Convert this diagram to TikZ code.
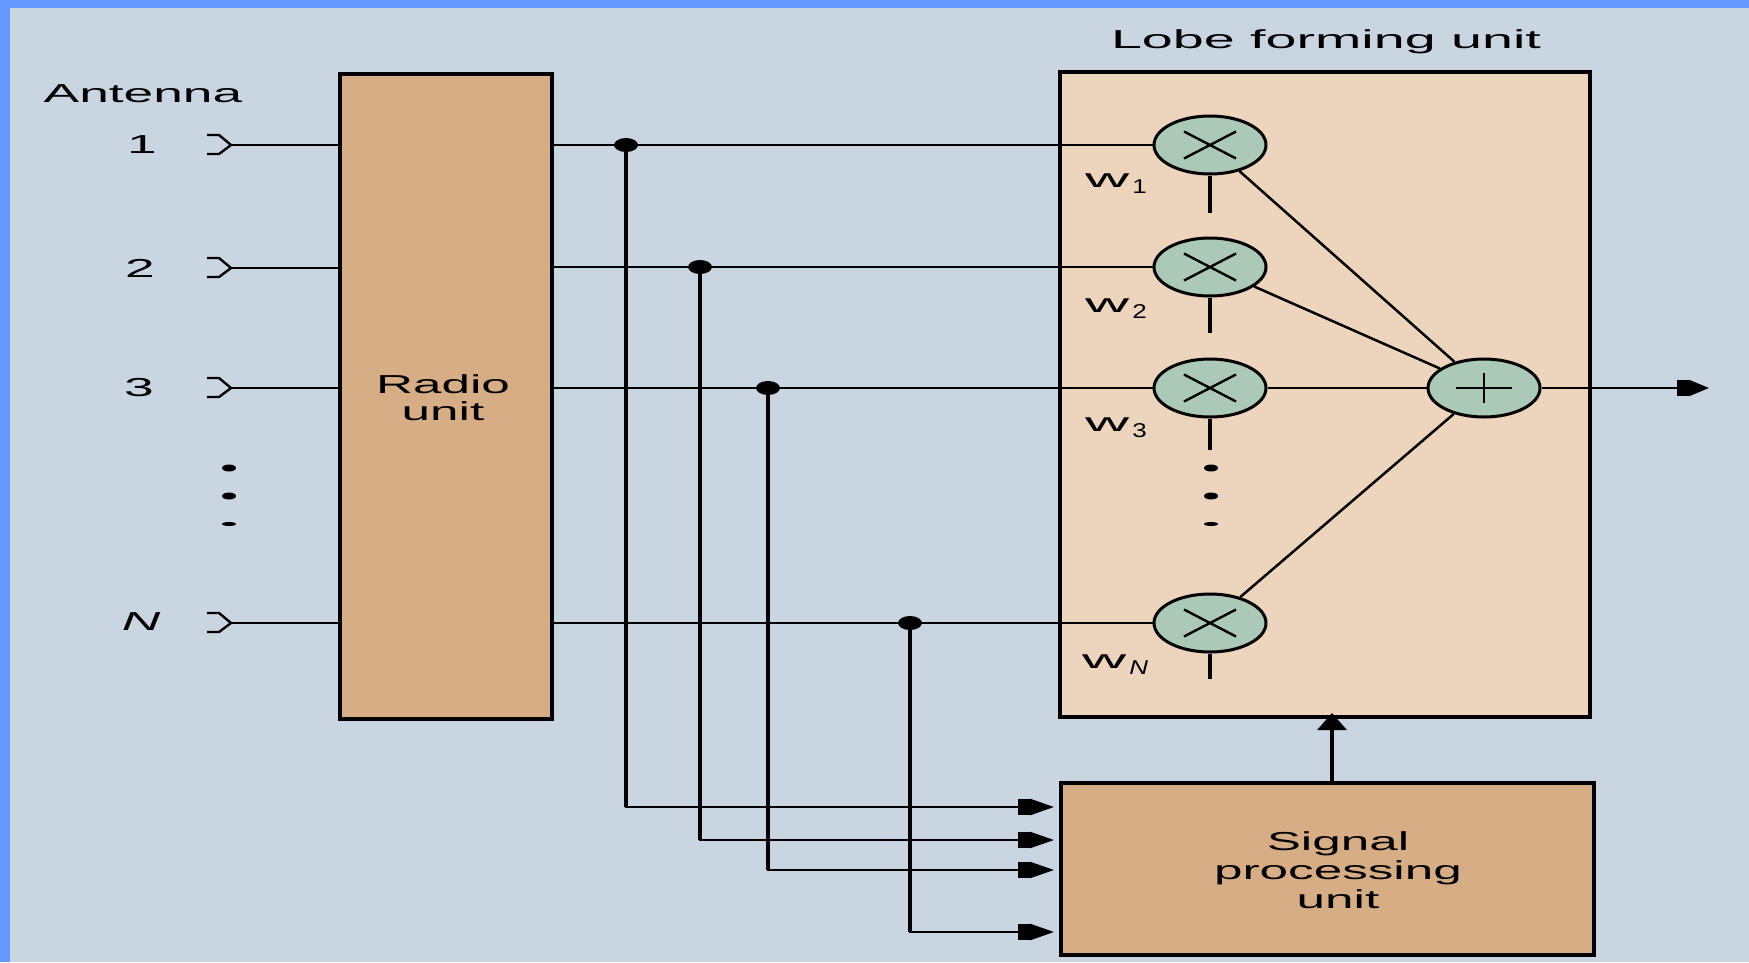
\documentclass[tikz,border=0pt]{standalone}
\usepackage{fontspec}
\usetikzlibrary{shapes.geometric,arrows.meta}
\setmainfont{Liberation Sans}
\newfontfamily\wide[FakeStretch=2.05]{Liberation Sans}
\newfontfamily\widemid[FakeStretch=1.97]{Liberation Sans}
\newfontfamily\widetop[FakeStretch=2.14]{Liberation Sans}
\newfontfamily\widei[FakeStretch=2.05,ItalicFont={Liberation Sans Italic}]{Liberation Sans}
\newfontfamily\wfont[FakeStretch=2.35]{Liberation Sans}
\newfontfamily\subfont[FakeStretch=1.3]{Liberation Sans}
\definecolor{frameblue}{HTML}{6699FF}
\definecolor{bgblue}{HTML}{CAD5E2}
\definecolor{tan}{HTML}{D6AD85}
\definecolor{peach}{HTML}{ECD5BC}
\definecolor{sage}{HTML}{ABC9B7}
\tikzset{
  x=1pt,y=-1pt,
  boxn/.style={draw=black,line width=3.6pt,rectangle,inner sep=0pt,anchor=north west},
  oper/.style={draw=black,fill=sage,ellipse,line width=3pt,inner sep=0pt,minimum width=112pt,minimum height=58pt},
  lab/.style={font=\fontsize{26}{29}\selectfont\wide,text=black,inner sep=0pt,align=center},
  wlab/.style={text=black,inner sep=0pt,anchor=base west},
  junc/.style={draw=none,fill=black,ellipse,inner sep=0pt,minimum width=24pt,minimum height=14pt},
  dotn/.style={draw=none,fill=black,ellipse,inner sep=0pt,minimum width=14pt,minimum height=7pt},
  wire/.style={line width=2.7pt},
  thin wire/.style={line width=2.2pt},
  bus/.style={line width=3.5pt},
  diag/.style={line width=2.5pt},
  stub/.style={line width=4pt},
  glyph/.style={line width=2.4pt},
  head/.style={line cap=rect,-{Rectangle[length=12pt,width=16pt]Triangle[length=24pt,width=16pt,sep=0pt]},shorten >=5pt},
}
\newcommand{\wsym}[1]{{\fontsize{26}{29}\selectfont\wfont w}\kern3pt\raisebox{-6pt}{\fontsize{20}{22}\selectfont\subfont #1}}
\begin{document}
\begin{tikzpicture}
\useasboundingbox (0,0) rectangle (1749,962);
\fill[frameblue] (0,0) rectangle (1749,962);
\fill[bgblue] (10,8) rectangle (1749,962);

% boxes
\node[boxn,fill=tan,minimum width=212pt,minimum height=645pt] (radio) at (338.3,72.3) {};
\node[lab,font=\fontsize{26}{27}\selectfont\widemid] (radiot) at (443,398) {Radio\\unit};
\node[boxn,fill=peach,minimum width=530pt,minimum height=645pt] (lobe) at (1058.3,70) {};
\node[boxn,fill=tan,minimum width=533pt,minimum height=172pt] (sp) at (1059,781) {};
\node[lab,font=\fontsize{26}{29}\selectfont\widemid] (spt) at (1338,870) {Signal\\processing\\unit};
\node[lab,font=\fontsize{26}{29}\selectfont\widetop,anchor=base] (lobet) at (1326,48) {Lobe forming unit};
\node[lab,anchor=base] (antt) at (143,102) {Antenna};

% operators
\node[oper] (m1) at (1210,145) {};
\node[oper] (m2) at (1210,267) {};
\node[oper] (m3) at (1210,388) {};
\node[oper] (mN) at (1210,623) {};
\node[oper] (s) at (1484,388) {};

% crosses and plus
\foreach \n in {m1,m2,m3,mN}{
  \draw[line width=2.4pt] ([shift={(-26,-13.5)}]\n.center) -- ([shift={(26,13.5)}]\n.center);
  \draw[line width=2.4pt] ([shift={(-26,13.5)}]\n.center) -- ([shift={(26,-13.5)}]\n.center);
}
\draw[line width=2.6pt] ([xshift=-28pt]s.center) -- ([xshift=28pt]s.center);
\draw[line width=2.6pt] ([yshift=-15pt]s.center) -- ([yshift=15pt]s.center);

% antennas
\coordinate (a1) at (231,145);
\coordinate (a2) at (231,268);
\coordinate (a3) at (231,388);
\coordinate (aN) at (231,623);
\foreach \n in {a1,a2,a3,aN}{
  \draw[glyph] (\n) ++(-24,-10) -- ++(12,0) -- ++(12,10) -- ++(-12,9) -- ++(-12,0);
}
\draw[wire] (a1) -- (a1 -| radio.west);
\draw[thin wire] (a2) -- (a2 -| radio.west);
\draw[thin wire] (a3) -- (a3 -| radio.west);
\draw[wire] (aN) -- (aN -| radio.west);

\node[lab] (n1) at (142,145) {1};
\node[lab] (n2) at (140,268) {2};
\node[lab] (n3) at (139,388) {3};
\node[lab,font=\fontsize{26}{29}\selectfont\widei\itshape] (nN) at (141,622) {N};

% junctions
\node[junc] (j1) at (626,145) {};
\node[junc] (j2) at (700,267) {};
\node[junc] (j3) at (768,388) {};
\node[junc] (jN) at (910,623) {};

% horizontal wires
\draw[wire] (m1 -| radio.east) -- (m1);
\draw[thin wire] (m2 -| radio.east) -- (m2);
\draw[thin wire] (m3 -| radio.east) -- (m3);
\draw[wire] (mN -| radio.east) -- (mN);
\draw[thin wire] (m3) -- (s);
\coordinate (out) at (1709,388);
\draw[thin wire,-{Rectangle[length=12pt,width=16pt]Triangle[length=20pt,width=16pt,sep=0pt]}] (s) -- (out);

% diagonals
\draw[diag] (m1) -- (s);
\draw[diag] (m2) -- (s);
\draw[diag] (mN) -- (s);

% weight stubs
\coordinate (e1) at (1210,213);
\coordinate (e2) at (1210,333);
\coordinate (e3) at (1210,450);
\coordinate (eN) at (1210,679);
\draw[stub] (m1) -- (e1);
\draw[stub] (m2) -- (e2);
\draw[stub] (m3) -- (e3);
\draw[stub] (mN) -- (eN);

% weight labels
\node[wlab] (w1) at (1085,187) {\wsym{1}};
\node[wlab] (w2) at (1085,312) {\wsym{2}};
\node[wlab] (w3) at (1085,431) {\wsym{3}};
\node[wlab] (wN) at (1082,668) {\wsym{\itshape N}};

% buses to signal processing
\coordinate (t1) at (1059,807);
\coordinate (t2) at (1059,840);
\coordinate (t3) at (1059,870);
\coordinate (t4) at (1059,932);
\coordinate (c1) at (j1 |- t1);
\coordinate (c2) at (j2 |- t2);
\coordinate (c3) at (j3 |- t3);
\coordinate (c4) at (jN |- t4);
\draw[bus] (j1) -- (c1);
\draw[bus] (j2) -- (c2);
\draw[bus] (j3) -- (c3);
\draw[bus] (jN) -- (c4);
\draw[wire,head] (c1) -- (t1);
\draw[thin wire,head] (c2) -- (t2);
\draw[thin wire,head] (c3) -- (t3);
\draw[wire,head] (c4) -- (t4);

% up arrow
\coordinate (u0) at (1332,782);
\coordinate (u1) at (1332,713);
\draw[line width=3.5pt,-{Triangle[length=17pt,width=29pt]}] (u0) -- (u1);

% dots
\foreach \k/\yy/\w/\h in {1/468/14/7,2/496/14/7,3/524/14/4}{
  \node[dotn,minimum width=\w pt,minimum height=\h pt] (dl\k) at (229,\yy) {};
  \node[dotn,minimum width=\w pt,minimum height=\h pt] (dr\k) at (1211,\yy) {};
}
\end{tikzpicture}
\end{document}
